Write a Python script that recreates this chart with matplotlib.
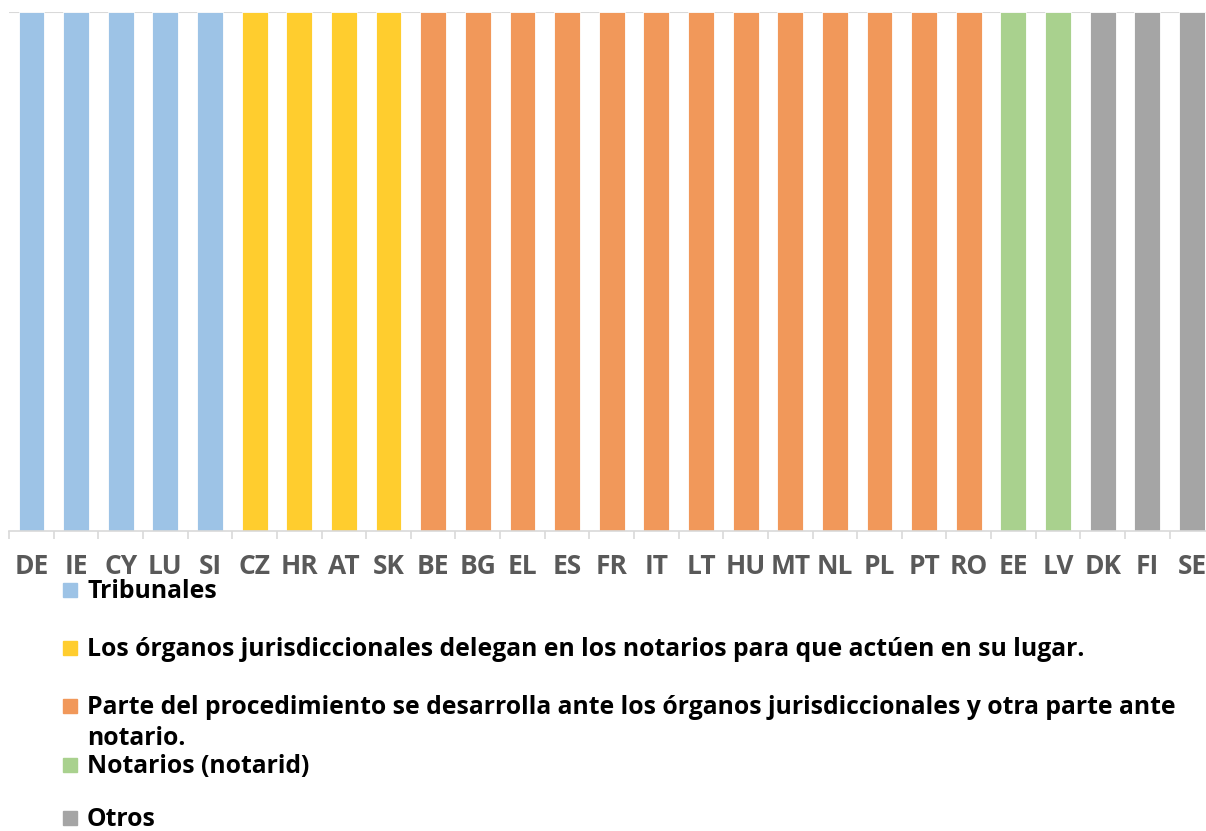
import matplotlib
matplotlib.use("Agg")
import matplotlib.pyplot as plt
from matplotlib.patches import Rectangle

countries = ["DE", "IE", "CY", "LU", "SI", "CZ", "HR", "AT", "SK", "BE", "BG", "EL", "ES",
             "FR", "IT", "LT", "HU", "MT", "NL", "PL", "PT", "RO", "EE", "LV", "DK", "FI", "SE"]
values = [1] * 27
groups = [0] * 5 + [1] * 4 + [2] * 13 + [3] * 2 + [4] * 3
legend_labels = [
    "Tribunales",
    "Los órganos jurisdiccionales delegan en los notarios para que actúen en su lugar.",
    "Parte del procedimiento se desarrolla ante los órganos jurisdiccionales y otra parte ante\nnotario.",
    "Notarios (notarid)",
    "Otros",
]
group_colors = ["#9DC3E6", "#FFCD2E", "#F1985A", "#A9D18E", "#A5A5A5"]

plt.rcParams['font.family'] = ['Open Sans', 'DejaVu Sans']

W, H = 1206, 831
fig = plt.figure(figsize=(W / 100, H / 100), dpi=100)
left = 9.2 / W
width = 27 * 44.63 / W
bottom = 1 - 531 / H
top = 1 - 12 / H
ax = fig.add_axes([left, bottom, width, top - bottom])

x = list(range(len(countries)))
colors = [group_colors[g] for g in groups]
ax.bar(x, values, width=0.58, color=colors, edgecolor="white", linewidth=0.6, zorder=2)
ax.set_xlim(-0.5, len(countries) - 0.5)
ax.set_ylim(0, 1)
ax.axhline(1, color="#D9D9D9", lw=1.5, zorder=1)

for s in ["top", "right", "left"]:
    ax.spines[s].set_visible(False)
ax.spines["bottom"].set_color("#D9D9D9")
ax.spines["bottom"].set_linewidth(1.2)
ax.set_yticks([])
ax.set_xticks(x)
ax.set_xticklabels(countries, fontsize=19, fontweight="bold", color="#595959")
ax.tick_params(axis="x", which="major", length=0, pad=16)
ax.set_xticks([i - 0.5 for i in range(len(countries) + 1)], minor=True)
ax.tick_params(axis="x", which="minor", length=6, color="#D9D9D9", width=1.2)

# legend drawn manually (handles aligned with first text line)
row_y = [590, 648, 706, 765, 818]
for lab, col, yy in zip(legend_labels, group_colors, row_y):
    fig.patches.append(Rectangle((63 / W, 1 - (yy + 7) / H), 14 / W, 14 / H,
                                 transform=fig.transFigure, color=col, figure=fig))
    fig.text(87 / W, 1 - (yy - 11) / H, lab, fontsize=17.8, fontweight="bold",
             color="black", va="top", ha="left", linespacing=1.3)

fig.savefig("out.png", dpi=100)
